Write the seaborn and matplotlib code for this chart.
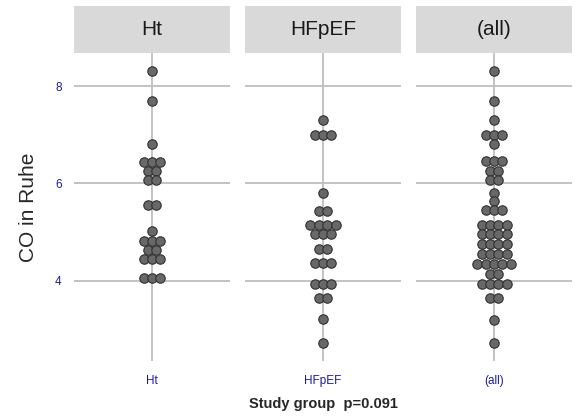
import numpy as np
import pandas as pd
import matplotlib
matplotlib.use("Agg")
import matplotlib.pyplot as plt
import seaborn as sns
from matplotlib.patches import Rectangle

# Werte (CO in Ruhe, gebinnt wie im Dotplot)
groups = ["Ht", "HFpEF", "(all)"]
ht_co = [8.3, 7.7, 6.8, 6.45, 6.45, 6.45, 6.26, 6.26, 6.06, 6.06, 5.56, 5.56,
         5.02, 4.82, 4.82, 4.82, 4.63, 4.63, 4.45, 4.45, 4.45, 4.06, 4.06, 4.06]
hfpef_co = [7.3, 7.0, 7.0, 7.0, 5.8, 5.44, 5.44, 5.15, 5.15, 5.15, 5.15,
            4.96, 4.96, 4.96, 4.66, 4.66, 4.36, 4.36, 4.36, 3.94, 3.94, 3.94,
            3.65, 3.65, 3.21, 2.72]
all_co = [8.3, 7.7, 7.3, 7.0, 7.0, 7.0, 6.81, 6.47, 6.47, 6.47, 6.26, 6.26,
          6.06, 6.06, 5.81, 5.63, 5.45, 5.45, 5.45, 5.15, 5.15, 5.15, 5.15,
          4.96, 4.96, 4.96, 4.96, 4.76, 4.76, 4.76, 4.76, 4.55, 4.55, 4.55, 4.55,
          4.35, 4.35, 4.35, 4.35, 4.35, 4.14, 4.14, 3.94, 3.94, 3.94, 3.94,
          3.65, 3.65, 3.2, 2.72]
p_value = 0.091

W, H = 575, 418
step = 8.4 / 157 * 1.2  # Abstand der Punkte in x-Einheiten

# Punkte pro Bin zentriert nebeneinander legen
rows = []
for g, vals in zip(groups, [ht_co, hfpef_co, all_co]):
    s = pd.Series(vals)
    for v, n in s.value_counts(sort=False).items():
        for i in range(n):
            rows.append({"group": g, "co": v, "xpos": (i - (n - 1) / 2) * step})
df = pd.DataFrame(rows)

sns.set_style("white")
plt.rcParams["font.family"] = ["Liberation Sans", "DejaVu Sans"]

fig, axes = plt.subplots(1, 3, sharey=True, figsize=(W / 100, H / 100), dpi=100)
fig.subplots_adjust(left=74 / W, right=572 / W, top=1 - 53 / H, bottom=1 - 361 / H,
                    wspace=0.097)

grid_col = "#BEBEBE"
for ax, g in zip(axes, groups):
    d = df[df["group"] == g]
    ax.axvline(0, color=grid_col, lw=1.3, zorder=0)
    for yv in [4, 6, 8]:
        ax.axhline(yv, color=grid_col, lw=1.3, zorder=0)
    sns.scatterplot(data=d, x="xpos", y="co", ax=ax, s=46, color="#686868",
                    edgecolor="#303030", linewidth=0.8, zorder=3, legend=False)
    ax.set_xlim(-0.6, 0.6)
    ax.set_ylim(2.35, 8.68)
    ax.set_xticks([0])
    ax.set_xticklabels([g], color="#1C1C9C", fontsize=8.5)
    ax.set_xlabel("")
    ax.set_ylabel("")
    for sp in ax.spines.values():
        sp.set_visible(False)
    ax.tick_params(axis="x", length=5, width=1.3, color="#333333", pad=5)
    ax.tick_params(axis="y", length=5, width=1.3, color="#333333", pad=4,
                   labelcolor="#1C1C9C", labelsize=8.5)
    # Facettenkopf
    ax.add_patch(Rectangle((0, 1), 1, 47 / 308, transform=ax.transAxes,
                           facecolor="#D9D9D9", edgecolor="none", clip_on=False))
    ax.text(0.5, 1 + 23.5 / 308, g, transform=ax.transAxes, ha="center",
            va="center", fontsize=15, color="#1A1A1A")

axes[0].set_yticks([4, 6, 8])
axes[0].set_ylabel("CO in Ruhe", fontsize=15, labelpad=12)
fig.text((74 + 572) / 2 / W, 1 - 404 / H, f"Study group  p={p_value}",
         ha="center", va="center", fontsize=10.5, fontweight="bold")

plt.savefig("out.png", dpi=100)
